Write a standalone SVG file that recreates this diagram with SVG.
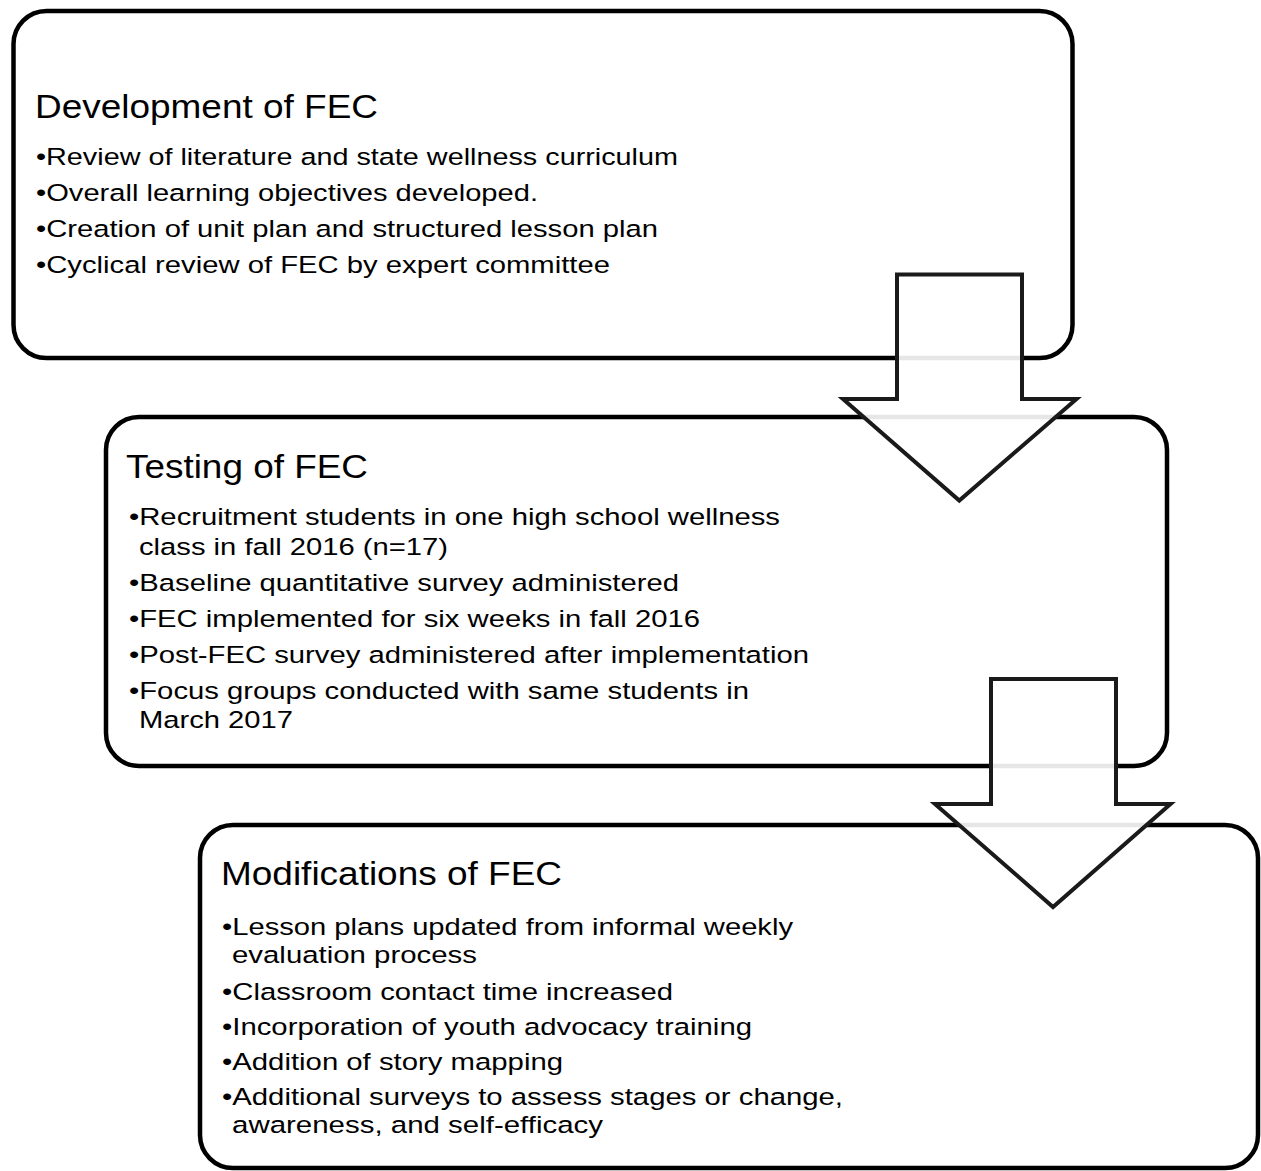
<svg xmlns="http://www.w3.org/2000/svg" width="1261" height="1171" viewBox="0 0 1261 1171">
  <style>
    .box { fill: #ffffff; stroke: #000000; stroke-width: 4.5; }
    .arrow { fill: #ffffff; fill-opacity: 0.9; stroke: #1a1a1a; stroke-width: 4; stroke-linejoin: miter; }
    .title { font-family: "Liberation Sans", Arial, sans-serif; font-size: 33px; fill: #000000; }
    .item { font-family: "Liberation Sans", Arial, sans-serif; font-size: 24.5px; fill: #000000; }
  </style>
  <rect width="1261" height="1171" fill="#ffffff"/>

  <g id="development">
    <rect class="box" x="13.5" y="11" width="1059" height="347" rx="33" ry="33"/>
    <text class="title" x="35" y="118" textLength="343" lengthAdjust="spacingAndGlyphs">Development of FEC</text>
    <text class="item" x="36" y="165" textLength="642" lengthAdjust="spacingAndGlyphs">•Review of literature and state wellness curriculum</text>
    <text class="item" x="36" y="201" textLength="502" lengthAdjust="spacingAndGlyphs">•Overall learning objectives developed.</text>
    <text class="item" x="36" y="237" textLength="622" lengthAdjust="spacingAndGlyphs">•Creation of unit plan and structured lesson plan</text>
    <text class="item" x="36" y="273" textLength="574" lengthAdjust="spacingAndGlyphs">•Cyclical review of FEC by expert committee</text>
  </g>

  <g id="testing">
    <rect class="box" x="106" y="417" width="1061" height="349" rx="33" ry="33"/>
    <text class="title" x="126" y="478" textLength="242" lengthAdjust="spacingAndGlyphs">Testing of FEC</text>
    <text class="item" x="129" y="525" textLength="651" lengthAdjust="spacingAndGlyphs">•Recruitment students in one high school wellness</text>
    <text class="item" x="139" y="555" textLength="309" lengthAdjust="spacingAndGlyphs">class in fall 2016 (n=17)</text>
    <text class="item" x="129" y="591" textLength="550" lengthAdjust="spacingAndGlyphs">•Baseline quantitative survey administered</text>
    <text class="item" x="129" y="627" textLength="571" lengthAdjust="spacingAndGlyphs">•FEC implemented for six weeks in fall 2016</text>
    <text class="item" x="129" y="663" textLength="680" lengthAdjust="spacingAndGlyphs">•Post-FEC survey administered after implementation</text>
    <text class="item" x="129" y="699" textLength="620" lengthAdjust="spacingAndGlyphs">•Focus groups conducted with same students in</text>
    <text class="item" x="139" y="728" textLength="154" lengthAdjust="spacingAndGlyphs">March 2017</text>
  </g>

  <g id="connectors">
    <polygon id="arrow-1" class="arrow" points="897,274.5 1022,274.5 1022,399 1076.5,399 959.3,500.5 843,399 897,399"/>
  </g>

  <g id="modifications">
    <rect class="box" x="200" y="825" width="1058" height="343" rx="33" ry="33"/>
    <text class="title" x="221" y="885" textLength="341" lengthAdjust="spacingAndGlyphs">Modifications of FEC</text>
    <text class="item" x="222" y="935" textLength="571" lengthAdjust="spacingAndGlyphs">•Lesson plans updated from informal weekly</text>
    <text class="item" x="232" y="963" textLength="245" lengthAdjust="spacingAndGlyphs">evaluation process</text>
    <text class="item" x="222" y="1000" textLength="451" lengthAdjust="spacingAndGlyphs">•Classroom contact time increased</text>
    <text class="item" x="222" y="1035" textLength="530" lengthAdjust="spacingAndGlyphs">•Incorporation of youth advocacy training</text>
    <text class="item" x="222" y="1070" textLength="341" lengthAdjust="spacingAndGlyphs">•Addition of story mapping</text>
    <text class="item" x="222" y="1105" textLength="621" lengthAdjust="spacingAndGlyphs">•Additional surveys to assess stages or change,</text>
    <text class="item" x="232" y="1133" textLength="371" lengthAdjust="spacingAndGlyphs">awareness, and self-efficacy</text>
  </g>

  <g id="connectors-2">
    <polygon id="arrow-2" class="arrow" points="991,679 1116,679 1116,804 1170.5,804 1053,907 935,804 991,804"/>
  </g>
</svg>
